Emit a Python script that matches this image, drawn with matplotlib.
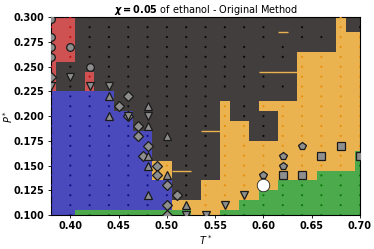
import numpy as np
import matplotlib
matplotlib.use('Agg')
import matplotlib.pyplot as plt
from matplotlib.colors import ListedColormap

# grid of state points
T_cells = np.round(np.arange(0.38, 0.7001, 0.01), 2)   # fill cells every 0.01
P_rows = np.round(np.arange(0.30, 0.0999, -0.01), 2)   # top to bottom
T_dots = np.round(np.arange(0.38, 0.7001, 0.02), 2)    # simulated points

# phase along each row as runs (r=red, k=dark, b=blue, o=orange, g=green), P=0.30 -> 0.10
phase_runs = [
    "r3 k27 o1 k2",                 # 0.30
    "r3 k27 o1 k2",                 # 0.29
    "r3 k27 o3",                    # 0.28
    "r3 k27 o3",                    # 0.27
    "r3 k23 o7",                    # 0.26
    "r1 k25 o7",                    # 0.25
    "r1 k3 r1 k21 o7",              # 0.24
    "r1 k3 r1 k21 o7",              # 0.23
    "b7 k19 o7",                    # 0.22
    "b7 k11 o1 k3 o11",             # 0.21
    "b9 k9 o1 k5 o9",               # 0.20
    "b9 k9 o3 k3 o9",               # 0.19
    "b11 k7 o3 k3 o9",              # 0.18
    "b11 k7 o15",                   # 0.17
    "b11 k7 o14 g1",                # 0.16
    "b11 o2 k5 o14 g1",             # 0.15
    "b11 o2 k5 o10 g5",             # 0.14
    "b13 k3 o8 g9",                 # 0.13
    "b13 k3 o6 g11",                # 0.12
    "b13 o7 g13",                   # 0.11
    "b3 g12 o3 g15",                # 0.10
]
phase_rows = ["".join(r[0] * int(r[1:]) for r in runs.split()) for runs in phase_runs]

# simulated points that gave no result (no dot drawn)
no_dot = [(0.62, 0.29), (0.66, 0.29), (0.62, 0.28), (0.58, 0.28), (0.64, 0.27),
          (0.66, 0.27), (0.60, 0.27), (0.62, 0.25), (0.62, 0.24), (0.62, 0.22),
          (0.56, 0.22), (0.58, 0.22), (0.60, 0.22), (0.60, 0.25)]

# thin slivers between rows: (P, T start, T end)
slivers = [(0.285, 0.615, 0.625), (0.245, 0.595, 0.635),
           (0.185, 0.535, 0.555), (0.145, 0.505, 0.525)]

# boundary markers
circ_T = [0.38, 0.38, 0.38, 0.38, 0.40, 0.42]
circ_P = [0.298, 0.28, 0.27, 0.26, 0.27, 0.25]
tdown_T = [0.38, 0.40, 0.42, 0.44, 0.46, 0.48, 0.52, 0.54, 0.56, 0.58]
tdown_P = [0.23, 0.24, 0.23, 0.23, 0.20, 0.20, 0.10, 0.10, 0.11, 0.12]
tup_T = [0.44, 0.44, 0.48, 0.48, 0.50, 0.48, 0.48, 0.50, 0.48, 0.52]
tup_P = [0.22, 0.20, 0.21, 0.19, 0.18, 0.16, 0.15, 0.14, 0.12, 0.11]
dia_T = [0.38, 0.46, 0.45, 0.46, 0.47, 0.47, 0.48, 0.475, 0.49, 0.49, 0.50, 0.51, 0.50, 0.50]
dia_P = [0.24, 0.22, 0.21, 0.20, 0.19, 0.18, 0.17, 0.16, 0.15, 0.14, 0.13, 0.12, 0.11, 0.10]
pent_T = [0.60, 0.62, 0.62, 0.64]
pent_P = [0.14, 0.15, 0.16, 0.17]
sq_T = [0.62, 0.64, 0.66, 0.68, 0.70]
sq_P = [0.14, 0.14, 0.16, 0.17, 0.16]
crit_T = [0.60]
crit_P = [0.13]

phases = "rkbog"
fill_colors = ['#cf5252', '#433e3e', '#4a4abd', '#ebb34f', '#4caa4c']
dot_colors = {'r': '#c41010', 'k': '#0a0a0a', 'b': '#10108c', 'o': '#e8900c', 'g': '#0b7a0b'}

Z = np.array([[phases.index(c) for c in row] for row in phase_rows])
assert Z.shape == (len(P_rows), len(T_cells))

fig = plt.figure(figsize=(3.74, 2.49), dpi=100)
ax = fig.add_axes([51 / 374, 1 - 215 / 249, 309 / 374, 197.7 / 249])

T_edges = np.append(T_cells - 0.005, T_cells[-1] + 0.005)
P_edges = np.append(P_rows + 0.005, P_rows[-1] - 0.005)
ax.pcolormesh(T_edges, P_edges, Z, cmap=ListedColormap(fill_colors),
              vmin=-0.5, vmax=4.5, shading='flat')

for p, t0, t1 in slivers:
    ax.plot([t0, t1], [p, p], color=fill_colors[3], lw=1.0, solid_capstyle='butt')

# small dots at each simulated point, coloured by phase
dx, dy, dc = [], [], []
for i, p in enumerate(P_rows):
    for t in T_dots:
        if (t, p) in no_dot:
            continue
        j = int(round((t - 0.38) / 0.01))
        dx.append(t)
        dy.append(p)
        dc.append(dot_colors[phase_rows[i][j]])
ax.scatter(dx, dy, s=2.5, c=dc, linewidths=0, zorder=3)

mk = dict(mfc='#8e8e8e', mec='#1a1a1a', mew=0.9, ls='none', zorder=4)
ax.plot(circ_T, circ_P, 'o', ms=5.5, **mk)
ax.plot(dia_T, dia_P, 'D', ms=5, **mk)
ax.plot(tdown_T, tdown_P, 'v', ms=6, **mk)
ax.plot(tup_T, tup_P, '^', ms=6, **mk)
ax.plot(pent_T, pent_P, 'p', ms=6, **mk)
ax.plot(sq_T, sq_P, 's', ms=5.5, **mk)
ax.plot(crit_T, crit_P, 'o', ms=9, mfc='white', mec='#222222', mew=0.6, ls='none', zorder=5)

ax.set_xlim(0.38, 0.70)
ax.set_ylim(0.10, 0.30)
ax.set_xticks([0.40, 0.45, 0.50, 0.55, 0.60, 0.65, 0.70])
ax.set_yticks([0.100, 0.125, 0.150, 0.175, 0.200, 0.225, 0.250, 0.275, 0.300])
ax.set_xticklabels(['%.2f' % v for v in ax.get_xticks()])
ax.set_yticklabels(['%.3f' % v for v in ax.get_yticks()])
ax.tick_params(labelsize=7, length=2.5, width=0.6, pad=2)
for lab in ax.get_xticklabels() + ax.get_yticklabels():
    lab.set_fontweight('bold')

ax.set_xlabel(r'$\boldsymbol{T^*}$', fontsize=7)
ax.set_ylabel(r'$\boldsymbol{P^*}$', fontsize=7)
ax.xaxis.set_label_coords(0.5, -0.09)
ax.yaxis.set_label_coords(-0.115, 0.5)
ax.set_title(r'$\boldsymbol{\chi = 0.05}$ of ethanol - Original Method', fontsize=7, pad=2)

fig.savefig('out.png', dpi=100)
